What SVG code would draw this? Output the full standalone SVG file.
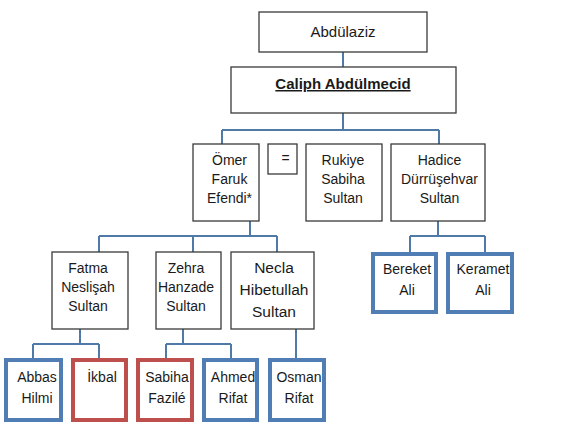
<svg xmlns="http://www.w3.org/2000/svg" width="562" height="427" viewBox="0 0 562 427">
<style>
.n{fill:#fff;stroke:#3a3a3a;stroke-width:1.3}
.b{fill:#fff;stroke:#4f7db4;stroke-width:4}
.r{fill:#fff;stroke:#bd4f4c;stroke-width:4}
.c{fill:none;stroke:#4f7aa8;stroke-width:2}
text{font-family:"Liberation Sans",Arial,sans-serif;font-size:14px;fill:#1a1a1a;text-anchor:middle}
.t{font-size:15px}
.k{font-size:15.5px}
.s{font-size:14px}
</style>
<rect width="562" height="427" fill="#fff"/>
<g id="connectors">
<path class="c" d="M343,52V67M343,113V130M222,130H439M222,130V144M439,130V144"/>
<path class="c" d="M250,221V236M99,236H277M99,236V252M193,236V252M277,236V252"/>
<path class="c" d="M80,329V344M33,344H99M33,344V358M99,344V358"/>
<path class="c" d="M183,329V344M166,344H231M166,344V358M231,344V358"/>
<path class="c" d="M296,329V358"/>
<path class="c" d="M438,221V236M410,236H485M410,236V252M485,236V252"/>
</g>
<g id="abdulaziz"><rect class="n" x="259" y="12" width="168" height="40"/><text class="t" x="343" y="37">Abdülaziz</text></g>
<g id="caliph"><rect class="n" x="231" y="67" width="225" height="46"/><text class="t" x="343" y="89" font-weight="bold" text-decoration="underline">Caliph Abdülmecid</text></g>
<g id="omer"><rect class="n" x="193" y="144" width="66" height="77"/><text x="229.5" y="165">Ömer</text><text x="229.5" y="184">Faruk</text><text x="229.5" y="203">Efendi*</text></g>
<g id="eq"><rect class="n" x="268" y="144" width="29" height="30"/><text x="285.5" y="163">=</text></g>
<g id="rukiye"><rect class="n" x="306" y="144" width="76" height="77"/><text x="343" y="165">Rukiye</text><text x="343" y="184">Sabiha</text><text x="343" y="203">Sultan</text></g>
<g id="hadice"><rect class="n" x="391" y="144" width="94" height="77"/><text x="439.5" y="165">Hadice</text><text x="439.5" y="184">Dürrüşehvar</text><text x="439.5" y="203">Sultan</text></g>
<g id="fatma"><rect class="n" x="52" y="252" width="76" height="77"/><text x="88" y="273">Fatma</text><text x="88" y="292">Neslişah</text><text x="88" y="311">Sultan</text></g>
<g id="zehra"><rect class="n" x="156" y="252" width="65" height="77"/><text x="186" y="273">Zehra</text><text x="186" y="292">Hanzade</text><text x="186" y="311">Sultan</text></g>
<g id="necla"><rect class="n" x="231" y="252" width="83" height="77"/><text class="k" x="274" y="273">Necla</text><text class="k" x="274" y="295">Hibetullah</text><text class="k" x="274" y="317">Sultan</text></g>
<g id="bereket"><rect class="b" x="373" y="254" width="63" height="58"/><text x="407" y="274">Bereket</text><text x="407" y="295">Ali</text></g>
<g id="keramet"><rect class="b" x="448" y="254" width="64" height="58"/><text x="483" y="274">Keramet</text><text x="483" y="295">Ali</text></g>
<g id="abbas"><rect class="b" x="6" y="360" width="55" height="60"/><text class="s" x="37" y="382">Abbas</text><text class="s" x="37" y="403">Hilmi</text></g>
<g id="ikbal"><rect class="r" x="73" y="360" width="53" height="60"/><text class="s" x="102" y="382">İkbal</text></g>
<g id="sabiha"><rect class="r" x="138" y="360" width="54" height="60"/><text class="s" x="167" y="382">Sabiha</text><text class="s" x="167" y="403">Fazilé</text></g>
<g id="ahmed"><rect class="b" x="204" y="360" width="53" height="60"/><text class="s" x="233" y="382">Ahmed</text><text class="s" x="233" y="403">Rifat</text></g>
<g id="osman"><rect class="b" x="270" y="360" width="54" height="60"/><text class="s" x="299" y="382">Osman</text><text class="s" x="299" y="403">Rifat</text></g>
</svg>
